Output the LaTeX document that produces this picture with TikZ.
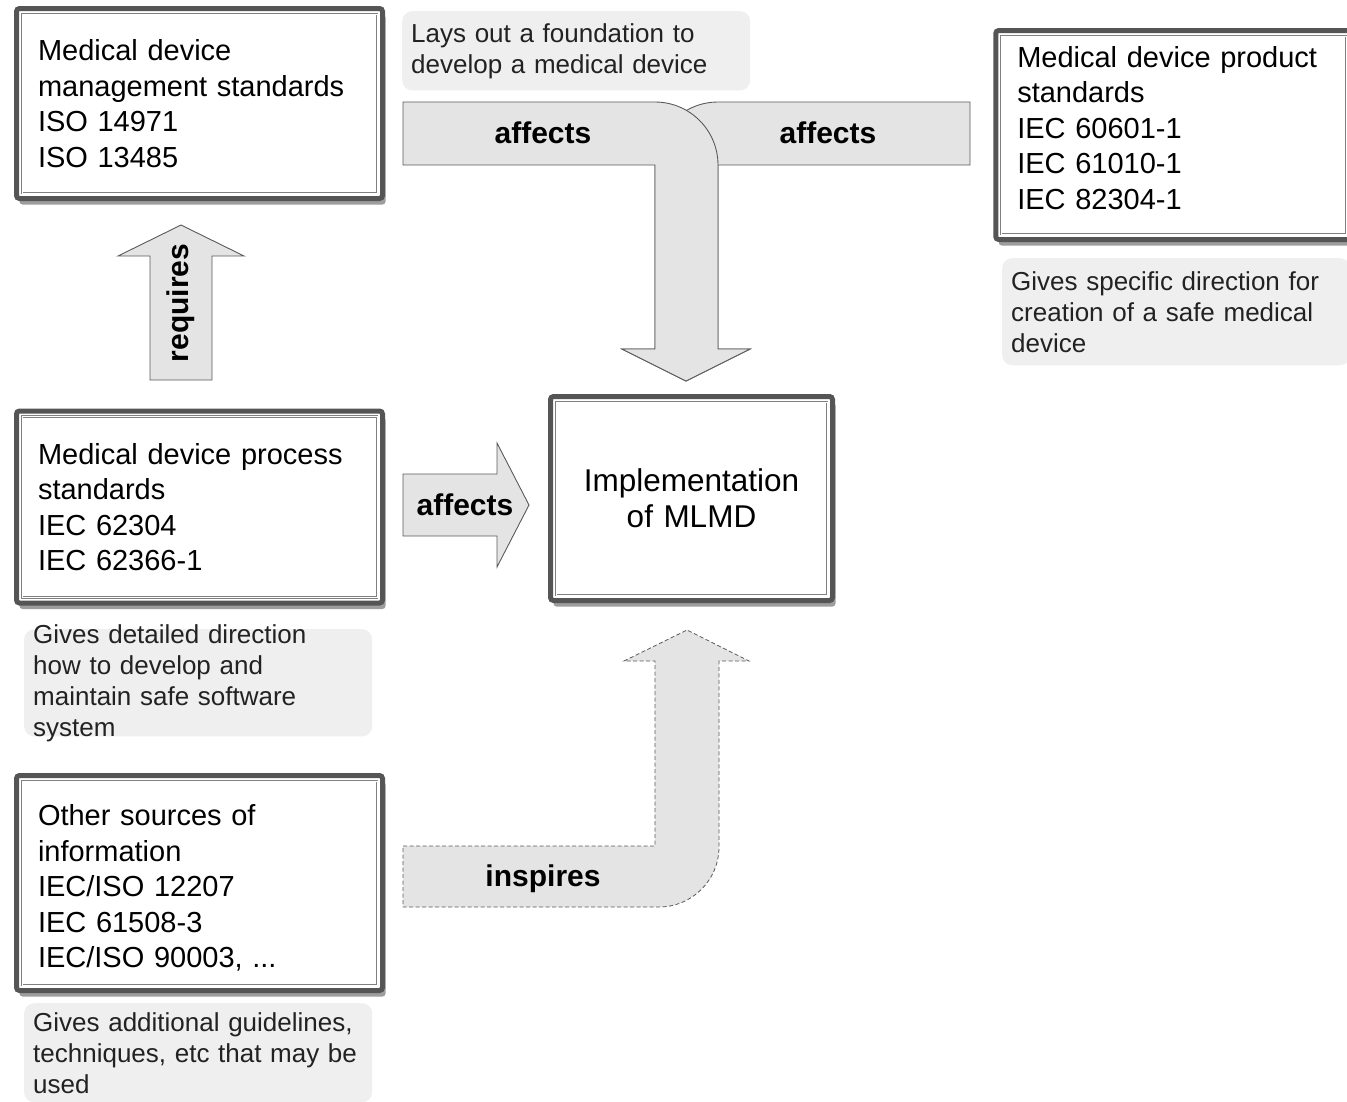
\documentclass[tikz,border=0pt]{standalone}
\usepackage{fontspec}
\setmainfont{Liberation Sans}
\usetikzlibrary{shadows}

\definecolor{boxline}{HTML}{555555}
\definecolor{arrowfill}{HTML}{E4E4E4}
\definecolor{arrowline}{HTML}{5A5A5A}
\definecolor{notefill}{HTML}{EFEFEF}
\definecolor{notetext}{HTML}{222222}

\newcommand{\boxtextfont}{\fontsize{29}{35.5}\selectfont}
\newcommand{\notetextfont}{\fontsize{26}{31}\selectfont}
\newcommand{\arrowtextfont}{\fontsize{30}{36}\selectfont\bfseries}

\tikzset{
	stdbox/.style={draw=boxline, line width=5pt, rounded corners=3pt, fill=white, outer sep=0pt,
		font=\boxtextfont, align=left, inner xsep=21.5pt, inner ysep=0pt,
		drop shadow={shadow xshift=3pt, shadow yshift=-6pt, fill=black!70, opacity=.55}},
	innerline/.style={draw=gray, line width=0.6pt, double=white, double distance=1pt},
	note/.style={fill=notefill, rounded corners=10pt, anchor=north west, text=notetext,
		font=\notetextfont, align=left, text width=330pt, inner xsep=9pt, inner ysep=12pt},
	bigarrow/.style={fill=arrowfill, draw=arrowline, line width=0.9pt},
	arrowtext/.style={font=\arrowtextfont}
}

\begin{document}
\begin{tikzpicture}[x=1pt, y=-1pt]
				\useasboundingbox (0,0) rectangle (1347,1101);

				\draw[bigarrow] (150,380) -- (150,256) -- (118,256) -- (181,225) -- (244,256) -- (212,256) -- (212,380) -- cycle;
				\draw[bigarrow] (403,474) -- (497,474) -- (497,443) -- (529,505) -- (497,567) -- (497,536) -- (403,536) -- cycle;
				\draw[bigarrow] (970,102) -- (718,102) .. controls (683.2,102) and (655,130.2) .. (655,165) -- (655,349) -- (622,349) -- (686,381) -- (750,349) -- (718,349) -- (718,165) -- (970,165) -- cycle;
				\draw[bigarrow] (403,102) -- (655,102) .. controls (689.8,102) and (718,130.2) .. (718,165) -- (718,349) -- (750,349) -- (686,381) -- (622,349) -- (655,349) -- (655,165) -- (403,165) -- cycle;
				\draw[bigarrow, line width=0.8pt, dash pattern=on 4pt off 2.5pt] (403,846) -- (655,846) -- (655,661) -- (624,661) -- (687,630) -- (749,661) -- (719,661) -- (719,847) .. controls (719,880) and (692,907) .. (659,907) -- (403,907) -- cycle;

				\node[arrowtext, rotate=90] (requires) at (181,303) {requires};
				\node[arrowtext] (affmid) at (465,505) {affects};
				\node[arrowtext] (affleft) at (543,133) {affects};
				\node[arrowtext] (affright) at (828,133) {affects};
				\node[arrowtext] (inspires) at (543,879) {inspires};

				\node[stdbox, text width=323pt, minimum height=190pt] (mgmt) at (199.5,103.5) {Medical device\\management standards\\ISO 14971\\ISO 13485};
				\node[stdbox, text width=323pt, minimum height=192pt] (proc) at (199.5,507) {Medical device process\\standards\\IEC 62304\\IEC 62366-1};
				\node[stdbox, text width=323pt, minimum height=215pt] (other) at (199.5,883) {\mbox{}\\[-4pt]Other sources of\\information\\IEC/ISO 12207\\IEC 61508-3\\IEC/ISO 90003, ...};
				\node[stdbox, text width=313pt, minimum height=209pt] (prod) at (1173.75,135) {Medical device product\\standards\\IEC 60601-1\\IEC 61010-1\\IEC 82304-1\\[-21pt]\mbox{}};
				\node[stdbox, font=\fontsize{31.5}{36}\selectfont, align=center, text width=239pt, minimum height=204pt] (mlmd) at (691.5,498.5) {Implementation\\of MLMD};

				\foreach \b in {mgmt,proc,other,prod,mlmd}
					\draw[innerline] ([shift={(5.5,5.5)}]\b.north west) rectangle ([shift={(-5.5,-5.5)}]\b.south east);

				\node[note] (found) at (402,11) {Lays out a foundation to\\develop a medical device};
				\node[note, inner ysep=13pt] (specific) at (1002,258) {Gives specific direction for\\creation of a safe medical\\device};
				\node[note, inner ysep=-5pt] (detail) at (24,629) {Gives detailed direction\\how to develop and\\maintain safe software\\system};
				\node[note, inner ysep=9pt] (extra) at (24,1003) {Gives additional guidelines,\\techniques, etc that may be\\used};

\end{tikzpicture}
\end{document}
